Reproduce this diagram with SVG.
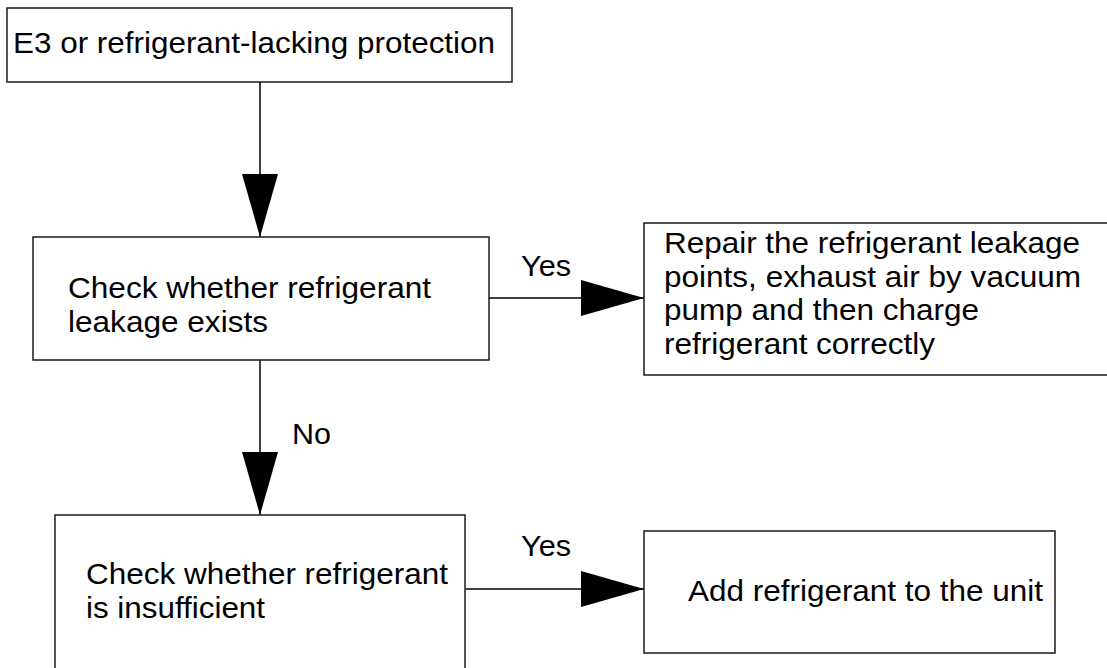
<svg xmlns="http://www.w3.org/2000/svg" width="1107" height="668" viewBox="0 0 1107 668">
  <defs>
    <style>
      .box { fill: #ffffff; stroke: #1a1a1a; stroke-width: 1.5; }
      .lbl { font-family: "Liberation Sans", Arial, sans-serif; font-size: 29px; fill: #000000; }
      .edge { stroke: #000000; stroke-width: 1.5; fill: none; marker-end: url(#head); }
    </style>
    <marker id="head" viewBox="0 0 63 36" refX="63" refY="18" markerWidth="63" markerHeight="36" markerUnits="userSpaceOnUse" orient="auto">
      <path d="M0,0 L63,18 L0,36 Z" fill="#000000"/>
    </marker>
  </defs>
  <rect width="1107" height="668" fill="#ffffff"/>

  <g id="connectors">
    <line class="edge" x1="260" y1="82" x2="260" y2="237"/>
    <line class="edge" x1="489" y1="298" x2="644" y2="298"/>
    <line class="edge" x1="260" y1="360" x2="260" y2="515"/>
    <line class="edge" x1="466" y1="589" x2="644" y2="589"/>
    <text class="lbl" x="521" y="276" textLength="50" lengthAdjust="spacingAndGlyphs">Yes</text>
    <text class="lbl" x="292" y="444" textLength="39" lengthAdjust="spacingAndGlyphs">No</text>
    <text class="lbl" x="521" y="556" textLength="50" lengthAdjust="spacingAndGlyphs">Yes</text>
  </g>

  <g id="start">
    <rect class="box" x="7" y="8" width="505" height="74"/>
    <text class="lbl" x="13" y="53" textLength="482" lengthAdjust="spacingAndGlyphs">E3 or refrigerant-lacking protection</text>
  </g>

  <g id="check-leak">
    <rect class="box" x="33" y="237" width="456" height="123"/>
    <text class="lbl" x="68" y="298" textLength="363" lengthAdjust="spacingAndGlyphs">Check whether refrigerant</text>
    <text class="lbl" x="68" y="332" textLength="200" lengthAdjust="spacingAndGlyphs">leakage exists</text>
  </g>

  <g id="repair-leak">
    <rect class="box" x="644" y="223" width="470" height="152"/>
    <text class="lbl" x="664" y="253" textLength="416" lengthAdjust="spacingAndGlyphs">Repair the refrigerant leakage</text>
    <text class="lbl" x="664" y="286.5" textLength="417" lengthAdjust="spacingAndGlyphs">points, exhaust air by vacuum</text>
    <text class="lbl" x="664" y="320" textLength="315" lengthAdjust="spacingAndGlyphs">pump and then charge</text>
    <text class="lbl" x="664" y="353.5" textLength="271" lengthAdjust="spacingAndGlyphs">refrigerant correctly</text>
  </g>

  <g id="check-charge">
    <rect class="box" x="55" y="515" width="410" height="170"/>
    <text class="lbl" x="86" y="584" textLength="362" lengthAdjust="spacingAndGlyphs">Check whether refrigerant</text>
    <text class="lbl" x="86" y="618" textLength="179" lengthAdjust="spacingAndGlyphs">is insufficient</text>
  </g>

  <g id="add-refrigerant">
    <rect class="box" x="644" y="531" width="411" height="122"/>
    <text class="lbl" x="688" y="601" textLength="355" lengthAdjust="spacingAndGlyphs">Add refrigerant to the unit</text>
  </g>
</svg>
